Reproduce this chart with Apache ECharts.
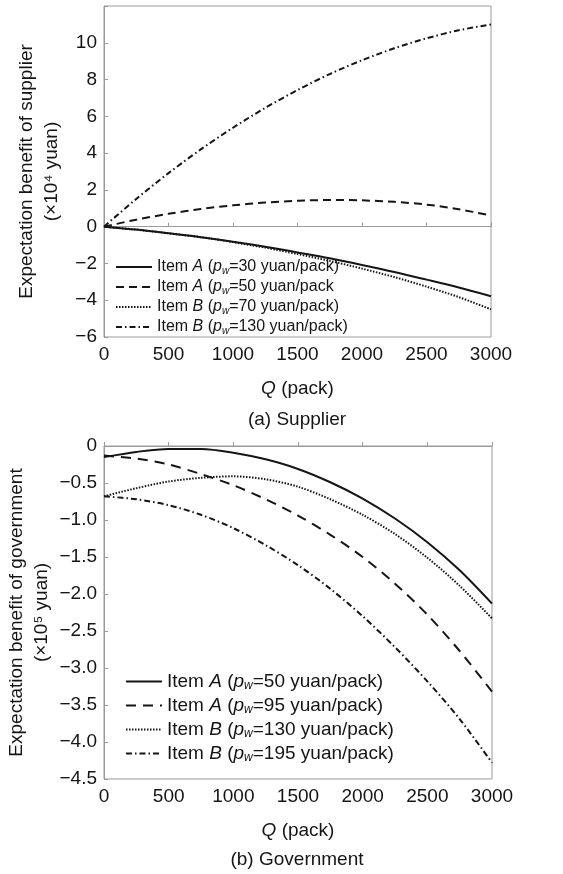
<!DOCTYPE html>
<html>
<head>
<meta charset="utf-8">
<script src="https://cdn.jsdelivr.net/npm/echarts@6/dist/echarts.min.js"></script>
<style>
  html, body { margin: 0; padding: 0; background: #fff; }
  #main { width: 563px; height: 874px; }
</style>
</head>
<body>
<div id="main"></div>
<script>
// order quantity Q (pack)
var qPack = [0, 250, 500, 750, 1000, 1250, 1500, 1750, 2000, 2250, 2500, 2750, 3000];

// (a) supplier, x10^4 yuan
var supA30  = [0, -0.16, -0.36, -0.57, -0.82, -1.09, -1.40, -1.72, -2.08, -2.46, -2.88, -3.31, -3.78];
var supA50  = [0, 0.38, 0.70, 0.96, 1.16, 1.31, 1.41, 1.45, 1.43, 1.35, 1.20, 0.95, 0.60];
var supB70  = [0, -0.16, -0.36, -0.57, -0.84, -1.14, -1.49, -1.86, -2.28, -2.74, -3.26, -3.83, -4.50];
var supB130 = [0, 1.51, 2.91, 4.20, 5.38, 6.46, 7.43, 8.30, 9.05, 9.70, 10.24, 10.68, 11.0];

// (b) government, x10^5 yuan
var govA50  = [-0.15, -0.08, -0.04, -0.04, -0.09, -0.18, -0.31, -0.49, -0.71, -0.98, -1.30, -1.68, -2.13];
var govA95  = [-0.13, -0.17, -0.25, -0.38, -0.53, -0.72, -0.94, -1.20, -1.50, -1.86, -2.28, -2.77, -3.32];
var govB130 = [-0.68, -0.57, -0.48, -0.43, -0.41, -0.45, -0.55, -0.72, -0.93, -1.19, -1.51, -1.89, -2.33];
var govB195 = [-0.68, -0.72, -0.80, -0.93, -1.11, -1.34, -1.61, -1.93, -2.30, -2.72, -3.18, -3.69, -4.28];

var supLabels = {
    sA30: 'Item {i|A} ({i|p}{s|w}=30 yuan/pack)',
    sA50: 'Item {i|A} ({i|p}{s|w}=50 yuan/pack',
    sB70: 'Item {i|B} ({i|p}{s|w}=70 yuan/pack)',
    sB130: 'Item {i|B} ({i|p}{s|w}=130 yuan/pack)'
};
var govLabels = {
    gA50: 'Item {i|A} ({i|p}{s|w}=50 yuan/pack)',
    gA95: 'Item {i|A} ({i|p}{s|w}=95 yuan/pack)',
    gB130: 'Item {i|B} ({i|p}{s|w}=130 yuan/pack)',
    gB195: 'Item {i|B} ({i|p}{s|w}=195 yuan/pack)'
};

var FONT = '"Liberation Sans", Arial, sans-serif';
var INK = '#151515';
var FRAME = '#9a9a9a';

function pairs(ys) {
    return qPack.map(function (q, i) { return [q, ys[i]]; });
}
function minus(v) {
    return String(v).replace('-', '\u2212');
}

function line(id, ys, idx, dash, width) {
    return {
        name: id,
        type: 'line',
        xAxisIndex: idx,
        yAxisIndex: idx,
        data: pairs(ys),
        smooth: 0.3,
        symbol: 'none',
        itemStyle: { color: INK },
        lineStyle: { color: INK, width: width || 2, type: dash }
    };
}

function xAx(idx) {
    return {
        type: 'value', gridIndex: idx, min: 0, max: 3000, interval: 500,
        axisLine: { show: true, lineStyle: { color: FRAME } },
        axisTick: { inside: true, length: 4, lineStyle: { color: FRAME } },
        splitLine: { show: false },
        axisLabel: { color: INK, fontSize: 19, fontFamily: FONT, margin: 8,
                     formatter: function (v) { return String(v); } },
        name: '{i|Q} (pack)',
        nameLocation: 'middle',
        nameGap: 42,
        nameTextStyle: {
            color: INK, fontSize: 19, fontFamily: FONT,
            rich: { i: { fontStyle: 'italic', fontSize: 19, fontFamily: FONT, color: INK } }
        }
    };
}

function yAx(idx, min, max, step, name, gap, fmt) {
    return {
        type: 'value', gridIndex: idx, min: min, max: max, interval: step,
        axisLine: { show: true, lineStyle: { color: FRAME } },
        axisTick: { inside: true, length: 4, lineStyle: { color: FRAME } },
        splitLine: { show: false },
        axisLabel: { color: INK, fontSize: 19, fontFamily: FONT, margin: 7, formatter: fmt },
        name: name,
        nameLocation: 'middle',
        nameRotate: 90,
        nameGap: gap,
        nameMoveOverlap: false,
        nameTextStyle: { color: INK, fontSize: 19, fontFamily: FONT, lineHeight: 25 }
    };
}

function legendRich(size) {
    return {
        i: { fontStyle: 'italic', fontSize: size, fontFamily: FONT, color: INK },
        s: { fontStyle: 'italic', fontSize: Math.round(size * 0.62), fontFamily: FONT, color: INK,
             verticalAlign: 'bottom', lineHeight: size + 2 }
    };
}

var chart = echarts.init(document.getElementById('main'));

var option = {
    animation: false,
    backgroundColor: '#fff',
    grid: [
        { left: 104, width: 387, top: 6, height: 331, show: true, borderColor: FRAME, borderWidth: 1,
          outerBoundsMode: 'none', containLabel: false },
        { left: 104, width: 388, top: 446, height: 333, show: true, borderColor: FRAME, borderWidth: 1,
          outerBoundsMode: 'none', containLabel: false }
    ],
    xAxis: [xAx(0), xAx(1)],
    yAxis: [
        yAx(0, -6, 12, 2, 'Expectation benefit of supplier\n(\u00d710\u2074 yuan)', 40, function (v) {
            return v === 12 ? '' : minus(v);
        }),
        yAx(1, -4.5, 0, 0.5, 'Expectation benefit of government\n(\u00d710\u2075 yuan)', 50, function (v) {
            return v === 0 ? '0' : minus(v.toFixed(1));
        })
    ],
    legend: [
        {
            orient: 'vertical', left: 110, top: 254,
            itemWidth: 36, itemHeight: 10, itemGap: 3,
            data: ['sA30', 'sA50', 'sB70', 'sB130'],
            formatter: function (n) { return supLabels[n]; },
            itemStyle: { opacity: 0 },
            textStyle: { color: INK, fontSize: 16, fontFamily: FONT, rich: legendRich(16) }
        },
        {
            orient: 'vertical', left: 120, top: 667,
            itemWidth: 36, itemHeight: 12, itemGap: 4,
            data: ['gA50', 'gA95', 'gB130', 'gB195'],
            formatter: function (n) { return govLabels[n]; },
            itemStyle: { opacity: 0 },
            textStyle: { color: INK, fontSize: 19, fontFamily: FONT, rich: legendRich(19) }
        }
    ],
    graphic: [
        { type: 'text', x: 297, y: 420,
          style: { text: '(a) Supplier', font: '19px ' + FONT, fill: INK, align: 'center', verticalAlign: 'middle' } },
        { type: 'text', x: 297, y: 860,
          style: { text: '(b) Government', font: '19px ' + FONT, fill: INK, align: 'center', verticalAlign: 'middle' } }
    ],
    series: [
        line('sA30', supA30, 0, 'solid'),
        line('sA50', supA50, 0, [8, 5]),
        line('sB70', supB70, 0, [1.5, 1.5]),
        line('sB130', supB130, 0, [6, 3, 1.5, 3]),
        line('gA50', govA50, 1, 'solid'),
        line('gA95', govA95, 1, [10, 7]),
        line('gB130', govB130, 1, [1.5, 1.5]),
        line('gB195', govB195, 1, [6, 3, 1.5, 3])
    ]
};

chart.setOption(option);
</script>
</body>
</html>
